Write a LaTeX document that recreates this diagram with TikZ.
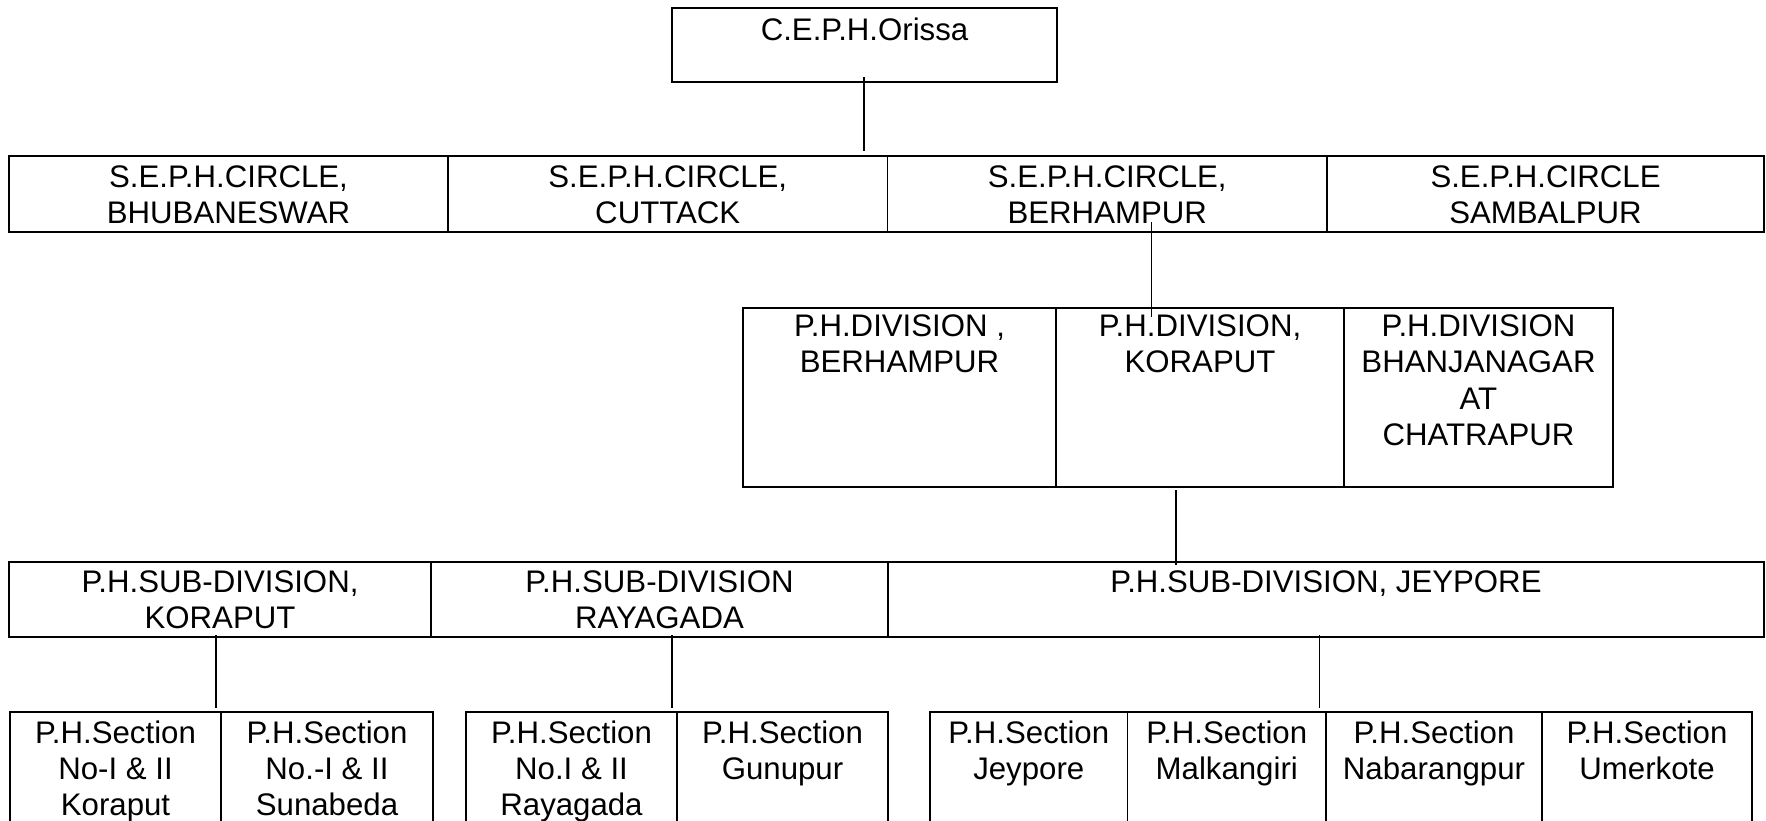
\documentclass[tikz,border=0pt]{standalone}
\usepackage{fontspec}
\setmainfont{Liberation Sans}
\begin{document}
\begin{tikzpicture}[x=0.5pt,y=-0.5pt,
    cell/.style={draw, line width=0.6pt, rectangle, anchor=north west, inner sep=0pt, outer sep=0pt},
    frame/.style={line width=0.95pt},
    txt/.style={anchor=north, inner sep=0pt, align=center, font=\fontsize{15.6}{18.2}\selectfont},
    link/.style={line width=0.7pt}]
  \useasboundingbox (0,0) rectangle (1766,820);

  % cells: name / left / top / width / height
  \foreach \n/\x/\y/\w/\h in {ceph/672/8/385/74,
                              bbsr/9/156/439/76, ctc/448/156/439.5/76, bam/887.5/156/439.5/76, sbp/1327/156/437/76,
                              divbam/743/308/313/179, divkpt/1056/308/288/179, divbjn/1344/308/269/179,
                              sdkpt/9/562/422/75, sdryg/431/562/457/75, sdjyp/888/562/876/75,
                              seckpt/10/712/211/120, secsnb/221/712/212/120,
                              secryg/466/712/211/120, secgnp/677/712/211/120,
                              secjyp/930/712/197.5/120, secmkg/1127.5/712/198.5/120,
                              secnbp/1326/712/216/120, secumk/1542/712/210/120}
    \node[cell, minimum width=\w*0.5pt, minimum height=\h*0.5pt] (\n) at (\x,\y) {};

  % heavier outer borders
  \draw[frame] (ceph.north west) rectangle (ceph.south east);
  \draw[frame] (bbsr.north west) rectangle (sbp.south east);
  \draw[frame] (divbam.north west) rectangle (divbjn.south east);
  \draw[frame] (sdkpt.north west) rectangle (sdjyp.south east);
  \draw[frame] (seckpt.north west) rectangle (secsnb.south east);
  \draw[frame] (secryg.north west) rectangle (secgnp.south east);
  \draw[frame] (secjyp.north west) rectangle (secumk.south east);

  % texts
  \foreach \n/\dy/\lbl in {ceph/4.6/{C.E.P.H.Orissa},
                           bbsr/4.6/{S.E.P.H.CIRCLE,\\BHUBANESWAR}, ctc/4.6/{S.E.P.H.CIRCLE,\\CUTTACK},
                           bam/4.6/{S.E.P.H.CIRCLE,\\BERHAMPUR}, sbp/4.6/{S.E.P.H.CIRCLE\\SAMBALPUR},
                           divbam/3.2/{P.H.DIVISION ,\\BERHAMPUR}, divkpt/3.2/{P.H.DIVISION,\\KORAPUT},
                           divbjn/3.2/{P.H.DIVISION\\BHANJANAGAR\\AT\\CHATRAPUR},
                           sdkpt/4.2/{P.H.SUB-DIVISION,\\KORAPUT}, sdryg/4.2/{P.H.SUB-DIVISION\\RAYAGADA},
                           sdjyp/4.2/{P.H.SUB-DIVISION, JEYPORE},
                           seckpt/4/{P.H.Section\\No-I \& II\\Koraput}, secsnb/4/{P.H.Section\\No.-I \& II\\Sunabeda},
                           secryg/4/{P.H.Section\\No.I \& II\\Rayagada}, secgnp/4/{P.H.Section\\Gunupur},
                           secjyp/4/{P.H.Section\\Jeypore}, secmkg/4/{P.H.Section\\Malkangiri},
                           secnbp/4/{P.H.Section\\Nabarangpur}, secumk/4/{P.H.Section\\Umerkote}}
    \node[txt] (\n-t) at ([yshift=-\dy pt]\n.north) {\lbl};

  % connectors
  \coordinate (tap0) at ([xshift=-0.25pt]ceph.south);
  \coordinate (tap1) at ([xshift=22pt]bam.south);
  \coordinate (tap2) at ([xshift=-12pt]divkpt.south);
  \coordinate (tap3) at ([xshift=-2pt]sdkpt.south);
  \coordinate (tap4) at ([xshift=6.25pt]sdryg.south);
  \coordinate (tap5) at ([xshift=-3.25pt]sdjyp.south);
  \draw[link, shorten <=-2.5pt, shorten >=2.5pt] (tap0) -- (tap0 |- ctc.north);
  \draw[link, shorten <=-5pt, shorten >=-4.5pt] (tap1) -- (tap1 |- divkpt.north);
  \draw[link, shorten <=1.5pt, shorten >=-1.5pt] (tap2) -- (tap2 |- sdjyp.north);
  \draw[link, shorten <=-1pt, shorten >=2pt] (tap3) -- (tap3 |- seckpt.north);
  \draw[link, shorten <=-1pt, shorten >=2pt] (tap4) -- (tap4 |- secryg.north);
  \draw[link, shorten <=-1pt, shorten >=2pt] (tap5) -- (tap5 |- secjyp.north);
\end{tikzpicture}
\end{document}
